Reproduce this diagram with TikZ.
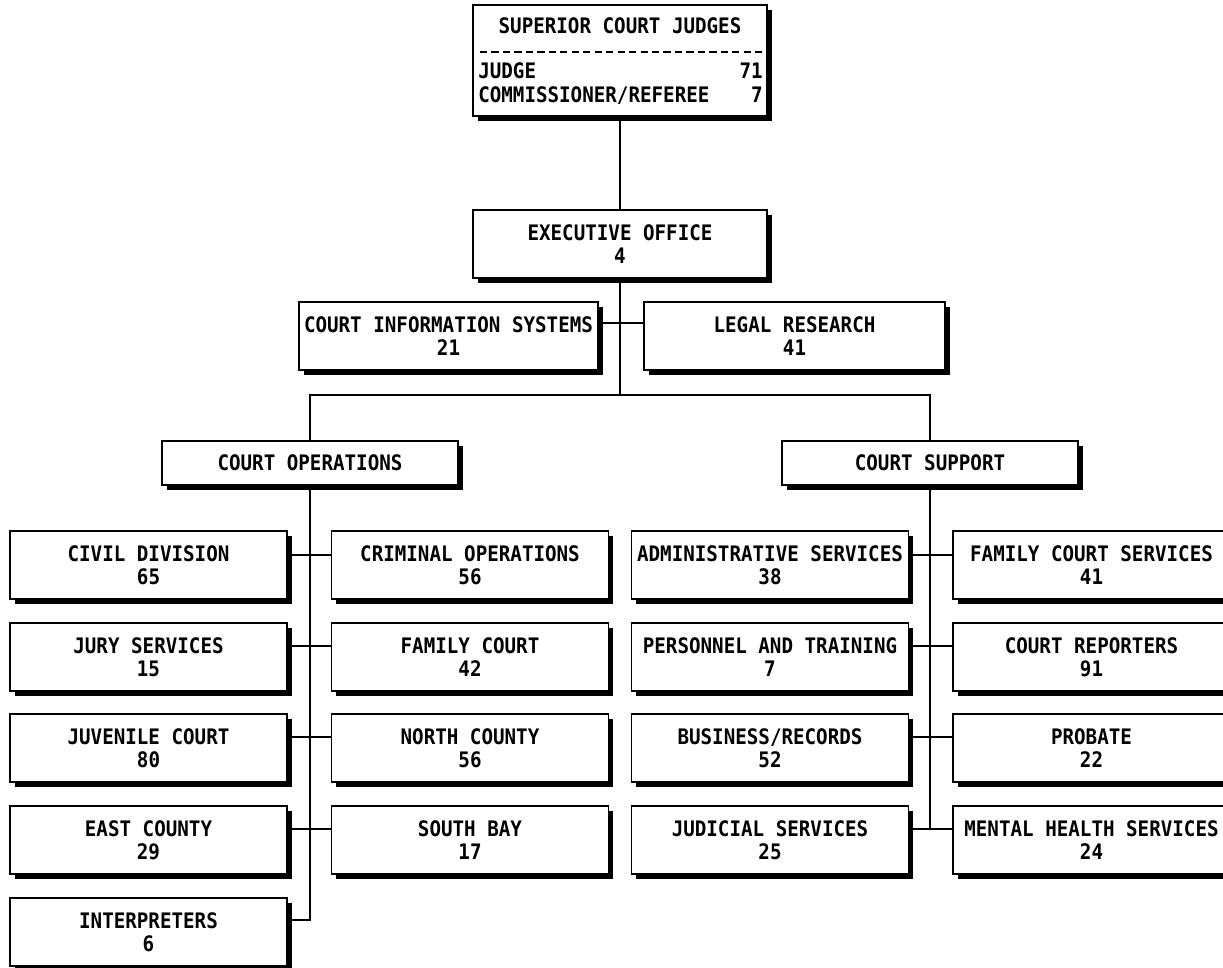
\documentclass[tikz,border=0pt]{standalone}
\usepackage{fontspec}
\newfontfamily\orgfont[FakeStretch=0.9]{DejaVu Sans Mono}
\usetikzlibrary{calc,shadows}
\begin{document}
\begin{tikzpicture}[x=0.75pt,y=-0.75pt,
  font=\orgfont\bfseries\fontsize{16}{17.25}\selectfont,
  unit/.style={draw, line width=1.4pt, fill=white, align=center, inner sep=0pt,
    drop shadow={shadow xshift=3.4pt, shadow yshift=-3.4pt, opacity=1, fill=black}},
  cell/.style={unit, minimum width={277*0.75pt}, minimum height={68*0.75pt}},
  head/.style={unit, minimum width={296*0.75pt}, minimum height={44*0.75pt}},
  link/.style={line width=1.3pt},
  label/.style={inner sep=0pt}]
\useasboundingbox (0,0) rectangle (1223,967);

% top of the chart
\node[unit, minimum width={294*0.75pt}, minimum height={111*0.75pt}] (sup) at (620,60.5) {};
\node[label, anchor=base] (supT) at (620,33) {SUPERIOR COURT JUDGES};
\draw[line width=2pt, dash pattern=on 5.4pt off 3.2pt] (480,52) -- (765,52);
\node[label, anchor=base west] (judL) at (478,78) {JUDGE};
\node[label, anchor=base east] (judN) at (763,78) {71};
\node[label, anchor=base west] (comL) at (478,102) {COMMISSIONER/REFEREE};
\node[label, anchor=base east] (comN) at (763,102) {7};

\node[unit, minimum width={294*0.75pt}, minimum height={68*0.75pt}] (exec) at (620,244) {EXECUTIVE OFFICE\\4};
\node[unit, minimum width={299*0.75pt}, minimum height={68*0.75pt}] (cis) at (448.5,336) {COURT INFORMATION SYSTEMS\\21};
\node[unit, minimum width={301*0.75pt}, minimum height={68*0.75pt}] (legal) at (794.5,336) {LEGAL RESEARCH\\41};

\node[head] (ops) at (310,463) {COURT OPERATIONS};
\node[head] (csup) at (930,463) {COURT SUPPORT};

% court operations units
\node[cell] (civ) at (148.5,565) {CIVIL DIVISION\\65};
\node[cell] (jury) at (148.5,657) {JURY SERVICES\\15};
\node[cell] (juv) at (148.5,748) {JUVENILE COURT\\80};
\node[cell] (east) at (148.5,840) {EAST COUNTY\\29};
\node[cell] (interp) at (148.5,932) {INTERPRETERS\\6};
\node[cell] (crim) at (470,565) {CRIMINAL OPERATIONS\\56};
\node[cell] (fam) at (470,657) {FAMILY COURT\\42};
\node[cell] (north) at (470,748) {NORTH COUNTY\\56};
\node[cell] (south) at (470,840) {SOUTH BAY\\17};

% court support units
\node[cell] (adm) at (770,565) {ADMINISTRATIVE SERVICES\\38};
\node[cell] (pers) at (770,657) {PERSONNEL AND TRAINING\\7};
\node[cell] (bus) at (770,748) {BUSINESS/RECORDS\\52};
\node[cell] (jud) at (770,840) {JUDICIAL SERVICES\\25};
\node[cell] (fcs) at (1091.5,565) {FAMILY COURT SERVICES\\41};
\node[cell] (rep) at (1091.5,657) {COURT REPORTERS\\91};
\node[cell] (prob) at (1091.5,748) {PROBATE\\22};
\node[cell] (mhs) at (1091.5,840) {MENTAL HEALTH SERVICES\\24};

% connector levels
\coordinate (cisr) at (0,323);
\coordinate (split) at (620,395);
\coordinate (r1) at (0,555);
\coordinate (r2) at (0,646);
\coordinate (r3) at (0,737);
\coordinate (r4) at (0,829);
\coordinate (r5) at (0,920);

\draw[link] (sup.south) -- (exec.north);
\draw[link] (exec.south) -- (split);
\draw[link] (cis.east |- cisr) -- (legal.west |- cisr);
\draw[link] (ops.north) |- (split) -| (csup.north);

\draw[link] (ops.south) |- (interp.east |- r5);
\draw[link] (civ.east |- r1) -- (crim.west |- r1);
\draw[link] (jury.east |- r2) -- (fam.west |- r2);
\draw[link] (juv.east |- r3) -- (north.west |- r3);
\draw[link] (east.east |- r4) -- (south.west |- r4);

\draw[link] (csup.south) |- (mhs.west |- r4);
\draw[link] (adm.east |- r1) -- (fcs.west |- r1);
\draw[link] (pers.east |- r2) -- (rep.west |- r2);
\draw[link] (bus.east |- r3) -- (prob.west |- r3);
\draw[link] (jud.east |- r4) -- (mhs.west |- r4);
\end{tikzpicture}
\end{document}
